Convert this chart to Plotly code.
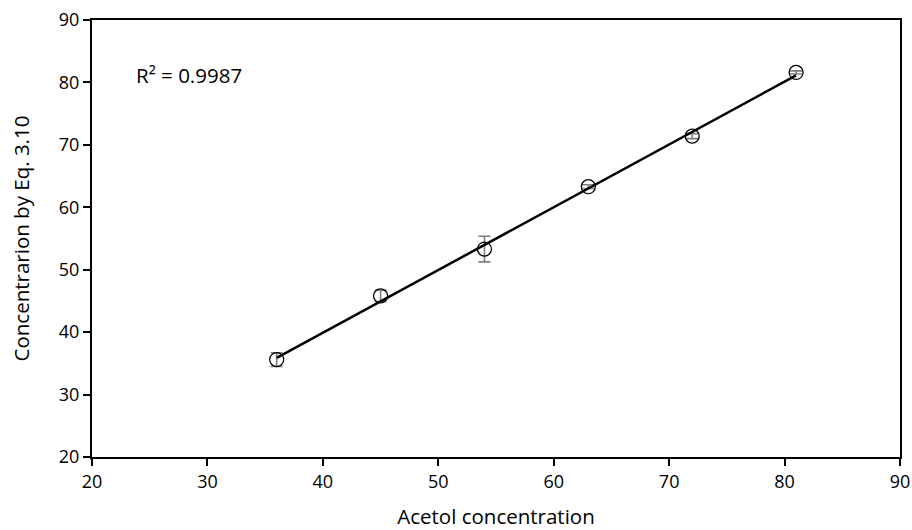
import numpy as np
import plotly.graph_objects as go

acetol = [36, 45, 54, 63, 72, 81]
eq310 = [35.6, 45.8, 53.3, 63.3, 71.4, 81.6]
err = [1.1, 0.9, 2.05, 0.3, 0.4, 0.25]

x_ticks = [20, 30, 40, 50, 60, 70, 80, 90]
y_ticks = [20, 30, 40, 50, 60, 70, 80, 90]

coef = np.polyfit(acetol, eq310, 1)
fit_x = [acetol[0], acetol[-1]]
fit_y = [coef[0] * v + coef[1] for v in fit_x]

FONT = "Open Sans"
TICK_FS = 18
TITLE_FS = 20.5

fig = go.Figure()
fig.add_trace(go.Scatter(
    x=acetol, y=eq310, mode="markers",
    marker=dict(symbol="circle-open", size=14, color="black", line=dict(width=1.3, color="black")),
    error_y=dict(type="data", array=err, visible=True, color="#7f7f7f", thickness=1.6, width=6),
    showlegend=False,
))
fig.add_trace(go.Scatter(
    x=fit_x, y=fit_y, mode="lines",
    line=dict(color="black", width=2.5),
    showlegend=False,
))

fig.add_annotation(
    x=0.052, y=0.874, xref="paper", yref="paper", xanchor="left", yanchor="middle",
    text="R² = 0.9987", showarrow=False,
    font=dict(family=FONT, size=TITLE_FS, color="black"),
)

axis_common = dict(
    showgrid=False, zeroline=False, showline=True, linecolor="black", linewidth=2,
    mirror=True, ticks="outside", ticklen=7, tickwidth=2, tickcolor="black",
    tickfont=dict(family=FONT, size=TICK_FS, color="black"), automargin=False,
)

fig.update_xaxes(
    range=[20, 90], tickvals=x_ticks, ticktext=[str(v) for v in x_ticks],
    title=dict(text="Acetol concentration", font=dict(family=FONT, size=TITLE_FS, color="black"), standoff=19),
    **axis_common,
)
fig.update_yaxes(
    range=[20, 90], tickvals=y_ticks, ticktext=[str(v) for v in y_ticks],
    title=dict(text="Concentrarion by Eq. 3.10", font=dict(family=FONT, size=TITLE_FS, color="black"), standoff=24),
    **axis_common,
)

fig.update_layout(
    width=912, height=530,
    margin=dict(l=92, r=12, t=20, b=73),
    plot_bgcolor="white", paper_bgcolor="white",
)

fig.write_html("out.html")
